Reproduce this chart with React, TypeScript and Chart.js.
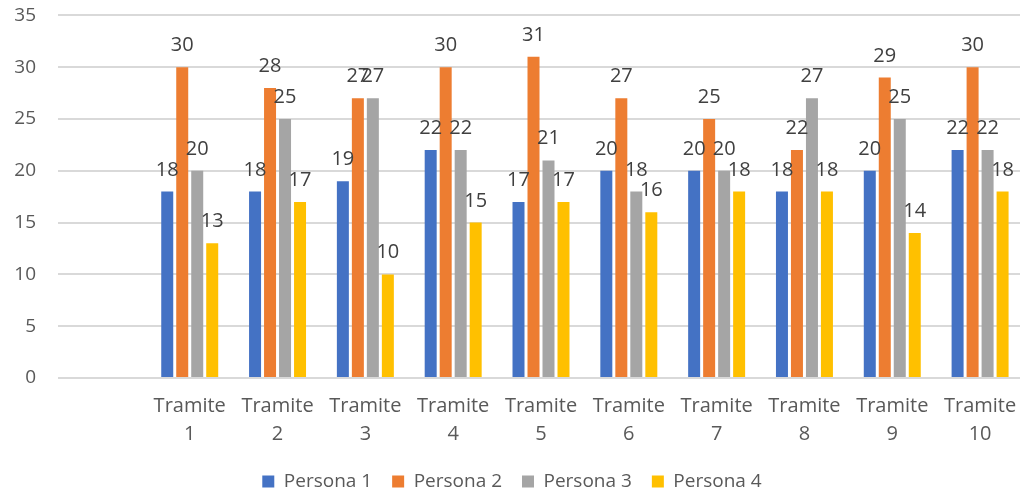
import React, { useEffect, useRef } from "react";
import { Chart, registerables } from "chart.js";

Chart.register(...registerables);

const categories: (string | string[])[] = [
  "",
  ["Tramite", "1"],
  ["Tramite", "2"],
  ["Tramite", "3"],
  ["Tramite", "4"],
  ["Tramite", "5"],
  ["Tramite", "6"],
  ["Tramite", "7"],
  ["Tramite", "8"],
  ["Tramite", "9"],
  ["Tramite", "10"],
];

const persona1: (number | null)[] = [null, 18, 18, 19, 22, 17, 20, 20, 18, 20, 22];
const persona2: (number | null)[] = [null, 30, 28, 27, 30, 31, 27, 25, 22, 29, 30];
const persona3: (number | null)[] = [null, 20, 25, 27, 22, 21, 18, 20, 27, 25, 22];
const persona4: (number | null)[] = [null, 13, 17, 10, 15, 17, 16, 18, 18, 14, 18];

const seriesNames = ["Persona 1", "Persona 2", "Persona 3", "Persona 4"];
const seriesColors = ["#4472C4", "#ED7D31", "#A5A5A5", "#FFC000"];

const FONT = "'Open Sans', 'Noto Sans', sans-serif";

const labelPlugin = {
  id: "barLabels",
  afterDatasetsDraw(chart: any) {
    const ctx = chart.ctx;
    ctx.save();
    ctx.font = `20px ${FONT}`;
    ctx.fillStyle = "#404040";
    ctx.textAlign = "center";
    ctx.textBaseline = "alphabetic";
    chart.data.datasets.forEach((ds: any, i: number) => {
      const meta = chart.getDatasetMeta(i);
      meta.data.forEach((el: any, j: number) => {
        const v = ds.data[j];
        if (v === null || v === undefined) return;
        ctx.fillText(String(v), el.x, el.y - 16);
      });
    });
    ctx.restore();
  },
};

export default function App() {
  const ref = useRef<HTMLCanvasElement>(null);
  useEffect(() => {
    document.documentElement.style.overflow = "hidden";
    document.body.style.overflow = "hidden";
    const datasets = [persona1, persona2, persona3, persona4].map((d, i) => ({
      label: seriesNames[i],
      data: d,
      backgroundColor: seriesColors[i],
      borderWidth: 0,
      barPercentage: 0.8,
      categoryPercentage: 0.683,
    }));
    const chart = new Chart(ref.current!, {
      type: "bar",
      data: { labels: categories as any, datasets },
      options: {
        animation: false,
        responsive: true,
        maintainAspectRatio: false,
        layout: { padding: { top: 4, right: 8, left: 0, bottom: 2 } },
        plugins: {
          tooltip: { enabled: false },
          legend: {
            position: "bottom",
            labels: {
              boxWidth: 12,
              boxHeight: 12,
              padding: 20,
              color: "#595959",
              font: { family: FONT, size: 19 },
            },
          },
        },
        scales: {
          x: {
            grid: { display: false },
            border: { display: false },
            ticks: {
              color: "#595959",
              font: { family: FONT, size: 20, lineHeight: 1.4 },
              padding: 6,
              maxRotation: 0,
              autoSkip: false,
            },
            afterFit: (s: any) => {
              s.height = 74;
            },
          },
          y: {
            min: 0,
            max: 35,
            ticks: {
              stepSize: 5,
              color: "#595959",
              font: { family: FONT, size: 19 },
              padding: 22,
            },
            grid: { color: "#D9D9D9", lineWidth: 2, drawTicks: false },
            border: { display: false },
            afterFit: (s: any) => {
              s.width = 58;
            },
          },
        },
      },
      plugins: [labelPlugin],
    });
    return () => chart.destroy();
  }, []);
  return (
    <div style={{ position: "absolute", left: 0, top: -18, width: 1032, height: 521 }}>
      <canvas ref={ref} />
    </div>
  );
}
